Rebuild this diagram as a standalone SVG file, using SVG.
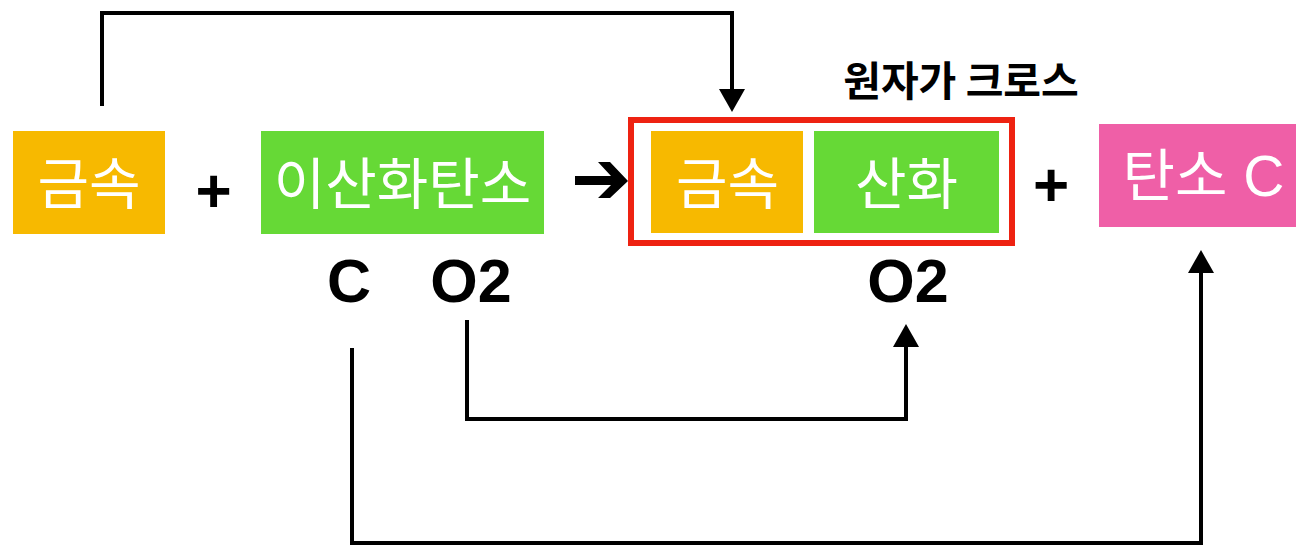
<svg xmlns="http://www.w3.org/2000/svg" width="1296" height="548" viewBox="0 0 1296 548">
<defs>
<style>
.box-label{font-family:"Noto Sans CJK KR","Liberation Sans",sans-serif;font-size:56px;fill:#fff;text-anchor:middle}
.sym{font-family:"Liberation Sans",Arial,sans-serif;font-weight:bold;fill:#000;text-anchor:middle}
.conn{fill:none;stroke:#000;stroke-width:4;stroke-linejoin:miter}
</style>
<marker id="ah" viewBox="0 0 23 26" refX="13" refY="13" markerWidth="5.75" markerHeight="6.5" markerUnits="strokeWidth" orient="auto">
<path d="M0,0 L23,13 L0,26 z" fill="#000"/>
</marker>
</defs>
<rect width="1296" height="548" fill="#fff"/>

<g id="connectors">
<path class="conn" d="M102,106 V13 H732 V102" marker-end="url(#ah)"/>
<path class="conn" d="M467,320 V419 H906 V334" marker-end="url(#ah)"/>
<path class="conn" d="M352,348 V543 H1201 V260" marker-end="url(#ah)"/>
<polygon points="575,176 611,176 598,162 610,162 628,181 610,198 598,198 611,185 575,185" fill="#000"/>
</g>

<g id="metal">
<rect x="13" y="131" width="152" height="103" fill="#F7B900"/>
<text class="box-label" x="89" y="204">금속</text>
</g>

<g id="plus1"><text class="sym" x="213.5" y="212" font-size="62">+</text></g>

<g id="co2">
<rect x="261" y="131" width="283" height="103" fill="#66D936"/>
<text class="box-label" x="402.5" y="204">이산화탄소</text>
</g>

<g id="cross-label"><text x="961" y="96" font-family="'Noto Sans CJK KR','Liberation Sans',sans-serif" font-size="41" font-weight="bold" fill="#000" text-anchor="middle">원자가 크로스</text></g>

<g id="product">
<rect x="631" y="120" width="381" height="123" fill="#fff" stroke="#EE2211" stroke-width="6"/>
<rect x="651" y="131" width="152" height="102" fill="#F7B900"/>
<text class="box-label" x="727.5" y="204">금속</text>
<rect x="814" y="131" width="185" height="102" fill="#66D936"/>
<text class="box-label" x="906.5" y="204">산화</text>
</g>

<g id="plus2"><text class="sym" x="1051" y="206" font-size="62">+</text></g>

<g id="carbon">
<rect x="1099" y="124" width="197" height="103" fill="#EF5FA7"/>
<text x="1203.5" y="196" font-family="'Liberation Sans','Noto Sans CJK KR',sans-serif" font-size="57" fill="#fff" text-anchor="middle">탄소 C</text>
</g>

<g id="labels">
<text class="sym" x="349" y="302" font-size="61">C</text>
<text class="sym" x="471" y="302" font-size="61">O2</text>
<text class="sym" x="908" y="302" font-size="61">O2</text>
</g>
</svg>
